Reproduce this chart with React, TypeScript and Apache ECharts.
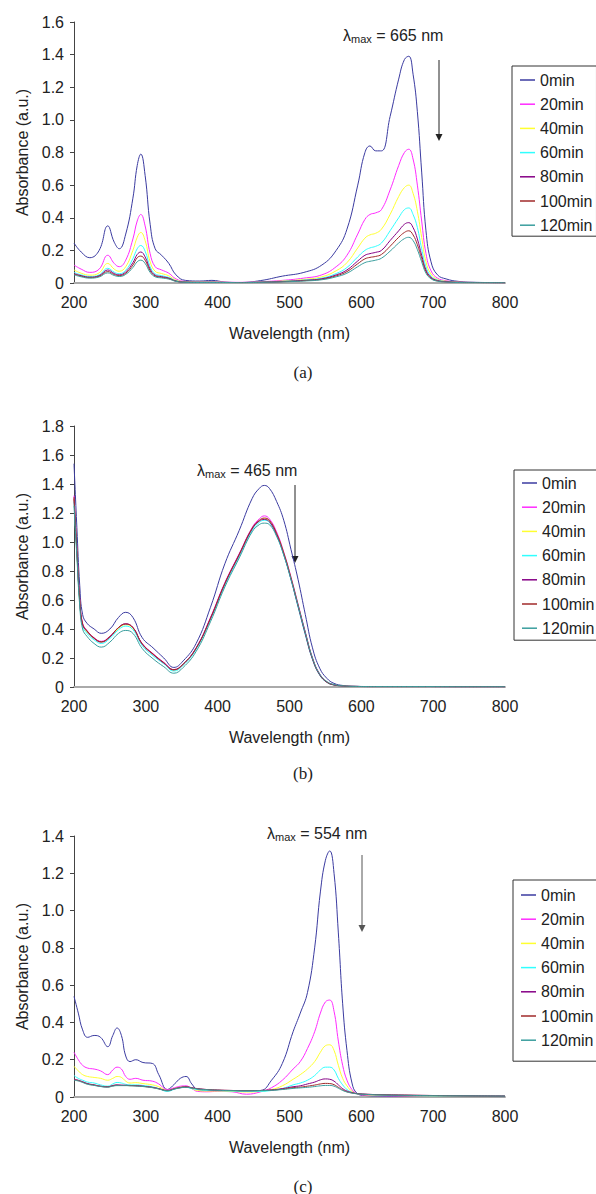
import React, { useEffect, useRef } from 'react';
import * as echarts from 'echarts';

// ---------- data ----------
const NAMES = ['0min', '20min', '40min', '60min', '80min', '100min', '120min'];
const COLORS = ['#3b3ba0', '#ff2bff', '#ffff30', '#30ffff', '#860086', '#a02a2a', '#3a9e9e'];
const X_TICKS = [200, 300, 400, 500, 600, 700, 800];

// panel (a)
const A_WL = [200, 210, 222, 235, 247, 256, 263, 272, 282, 288, 293, 299, 306, 313, 322, 332, 342, 355, 375, 392, 410, 430, 460, 490, 520, 545, 565, 580, 595, 605, 612, 620, 628, 640, 652, 660, 666, 672, 678, 684, 690, 697, 706, 718, 735, 760, 800];
const A_0 = [0.245, 0.19, 0.155, 0.2, 0.35, 0.25, 0.21, 0.3, 0.52, 0.72, 0.79, 0.66, 0.36, 0.21, 0.17, 0.12, 0.05, 0.016, 0.012, 0.016, 0.006, 0.003, 0.015, 0.042, 0.065, 0.11, 0.2, 0.33, 0.6, 0.8, 0.84, 0.81, 0.81, 1.02, 1.25, 1.37, 1.39, 1.28, 1.05, 0.68, 0.32, 0.13, 0.05, 0.025, 0.01, 0.004, 0.002];
const A_20 = [0.11, 0.085, 0.065, 0.085, 0.17, 0.12, 0.1, 0.14, 0.27, 0.38, 0.42, 0.35, 0.18, 0.1, 0.08, 0.06, 0.025, 0.01, 0.008, 0.008, 0.005, 0.004, 0.008, 0.016, 0.03, 0.05, 0.1, 0.17, 0.3, 0.39, 0.42, 0.43, 0.45, 0.57, 0.72, 0.8, 0.82, 0.76, 0.6, 0.38, 0.18, 0.075, 0.03, 0.014, 0.006, 0.003, 0.002];
const A_40 = [0.08, 0.06, 0.048, 0.062, 0.12, 0.085, 0.072, 0.1, 0.2, 0.28, 0.31, 0.26, 0.13, 0.072, 0.058, 0.044, 0.018, 0.008, 0.006, 0.006, 0.004, 0.003, 0.006, 0.012, 0.022, 0.038, 0.075, 0.125, 0.215, 0.275, 0.295, 0.305, 0.33, 0.42, 0.53, 0.585, 0.6, 0.55, 0.44, 0.28, 0.13, 0.055, 0.022, 0.011, 0.005, 0.003, 0.002];
const A_60 = [0.065, 0.05, 0.04, 0.05, 0.09, 0.066, 0.057, 0.078, 0.15, 0.21, 0.23, 0.195, 0.1, 0.056, 0.045, 0.034, 0.014, 0.006, 0.005, 0.005, 0.003, 0.003, 0.005, 0.01, 0.018, 0.03, 0.058, 0.095, 0.16, 0.2, 0.215, 0.225, 0.245, 0.32, 0.4, 0.45, 0.46, 0.42, 0.34, 0.21, 0.1, 0.042, 0.018, 0.009, 0.004, 0.003, 0.002];
const A_80 = [0.058, 0.045, 0.036, 0.045, 0.08, 0.058, 0.05, 0.068, 0.125, 0.175, 0.19, 0.16, 0.085, 0.048, 0.039, 0.03, 0.012, 0.005, 0.004, 0.004, 0.003, 0.003, 0.005, 0.009, 0.016, 0.026, 0.05, 0.08, 0.135, 0.17, 0.18, 0.188, 0.2, 0.26, 0.32, 0.36, 0.37, 0.34, 0.27, 0.17, 0.08, 0.035, 0.015, 0.008, 0.004, 0.003, 0.002];
const A_100 = [0.055, 0.042, 0.033, 0.041, 0.07, 0.052, 0.045, 0.06, 0.11, 0.155, 0.165, 0.14, 0.075, 0.043, 0.035, 0.027, 0.011, 0.005, 0.004, 0.004, 0.003, 0.003, 0.004, 0.008, 0.014, 0.023, 0.044, 0.07, 0.118, 0.148, 0.157, 0.163, 0.175, 0.225, 0.28, 0.31, 0.32, 0.295, 0.235, 0.15, 0.07, 0.03, 0.013, 0.007, 0.004, 0.003, 0.002];
const A_120 = [0.05, 0.038, 0.03, 0.037, 0.062, 0.046, 0.04, 0.053, 0.095, 0.13, 0.14, 0.12, 0.065, 0.038, 0.031, 0.024, 0.01, 0.004, 0.003, 0.003, 0.003, 0.002, 0.004, 0.007, 0.012, 0.02, 0.038, 0.06, 0.1, 0.125, 0.133, 0.14, 0.152, 0.195, 0.245, 0.272, 0.28, 0.26, 0.205, 0.13, 0.06, 0.026, 0.011, 0.006, 0.003, 0.002, 0.002];

// panel (b)
const B_WL = [200, 204, 208, 212, 218, 228, 238, 250, 262, 272, 282, 295, 310, 325, 339, 352, 370, 390, 410, 430, 448, 458, 465, 472, 482, 492, 502, 512, 522, 532, 542, 552, 562, 575, 590, 620, 680, 740, 800];
const B_0 = [1.54, 1.1, 0.7, 0.5, 0.44, 0.4, 0.37, 0.4, 0.48, 0.515, 0.48, 0.34, 0.27, 0.2, 0.135, 0.18, 0.3, 0.55, 0.85, 1.08, 1.3, 1.37, 1.39, 1.37, 1.28, 1.15, 0.95, 0.74, 0.5, 0.27, 0.13, 0.06, 0.025, 0.01, 0.005, 0.003, 0.003, 0.002, 0.002];
const B_20 = [1.32, 0.95, 0.6, 0.44, 0.39, 0.34, 0.315, 0.35, 0.41, 0.435, 0.41, 0.3, 0.23, 0.17, 0.12, 0.16, 0.27, 0.48, 0.72, 0.92, 1.1, 1.16, 1.18, 1.16, 1.07, 0.93, 0.76, 0.57, 0.38, 0.2, 0.09, 0.035, 0.015, 0.007, 0.004, 0.003, 0.003, 0.002, 0.002];
const B_40 = [1.3, 0.93, 0.59, 0.43, 0.38, 0.335, 0.31, 0.345, 0.405, 0.43, 0.405, 0.295, 0.225, 0.165, 0.115, 0.155, 0.265, 0.47, 0.71, 0.91, 1.09, 1.145, 1.16, 1.145, 1.055, 0.92, 0.75, 0.56, 0.37, 0.195, 0.085, 0.033, 0.014, 0.007, 0.004, 0.003, 0.003, 0.002, 0.002];
const B_60 = [1.28, 0.92, 0.58, 0.42, 0.37, 0.325, 0.3, 0.335, 0.395, 0.42, 0.395, 0.285, 0.215, 0.16, 0.11, 0.15, 0.26, 0.465, 0.7, 0.9, 1.08, 1.135, 1.15, 1.135, 1.045, 0.91, 0.74, 0.55, 0.36, 0.19, 0.082, 0.032, 0.014, 0.006, 0.004, 0.003, 0.003, 0.002, 0.002];
const B_80 = [1.3, 0.94, 0.6, 0.43, 0.385, 0.335, 0.31, 0.345, 0.41, 0.435, 0.41, 0.295, 0.225, 0.165, 0.118, 0.157, 0.268, 0.472, 0.712, 0.912, 1.09, 1.145, 1.155, 1.14, 1.05, 0.915, 0.745, 0.555, 0.365, 0.192, 0.084, 0.033, 0.014, 0.007, 0.004, 0.003, 0.003, 0.002, 0.002];
const B_100 = [1.31, 0.945, 0.6, 0.435, 0.388, 0.338, 0.312, 0.348, 0.41, 0.435, 0.41, 0.298, 0.228, 0.168, 0.12, 0.158, 0.268, 0.475, 0.715, 0.915, 1.095, 1.15, 1.165, 1.15, 1.06, 0.925, 0.755, 0.565, 0.375, 0.198, 0.087, 0.034, 0.015, 0.007, 0.004, 0.003, 0.003, 0.002, 0.002];
const B_120 = [1.25, 0.9, 0.56, 0.4, 0.35, 0.3, 0.275, 0.31, 0.37, 0.39, 0.37, 0.265, 0.195, 0.14, 0.095, 0.135, 0.245, 0.45, 0.69, 0.89, 1.07, 1.12, 1.13, 1.12, 1.04, 0.91, 0.745, 0.56, 0.375, 0.2, 0.09, 0.038, 0.017, 0.008, 0.004, 0.003, 0.003, 0.002, 0.002];

// panel (c)
const C_WL = [200, 206, 212, 219, 228, 237, 247, 254, 260, 266, 272, 278, 286, 296, 309, 318, 330, 340, 348, 356, 364, 372, 385, 400, 420, 440, 460, 475, 490, 505, 515, 525, 535, 543, 550, 556, 562, 568, 574, 580, 587, 594, 605, 630, 660, 700, 750, 800];
const C_0 = [0.54, 0.45, 0.36, 0.32, 0.33, 0.32, 0.27, 0.33, 0.37, 0.33, 0.22, 0.19, 0.2, 0.185, 0.18, 0.12, 0.04, 0.07, 0.1, 0.11, 0.07, 0.04, 0.035, 0.035, 0.033, 0.032, 0.035, 0.09, 0.18, 0.35, 0.45, 0.56, 0.8, 1.1, 1.27, 1.32, 1.2, 0.88, 0.5, 0.25, 0.075, 0.02, 0.008, 0.005, 0.004, 0.003, 0.003, 0.002];
const C_20 = [0.24, 0.2, 0.17, 0.155, 0.15, 0.14, 0.12, 0.145, 0.16, 0.15, 0.11, 0.095, 0.1, 0.09, 0.085, 0.07, 0.04, 0.05, 0.058, 0.06, 0.045, 0.03, 0.028, 0.03, 0.028, 0.015, 0.028, 0.05, 0.09, 0.15, 0.19, 0.26, 0.35, 0.45, 0.51, 0.52, 0.46, 0.3, 0.17, 0.09, 0.04, 0.018, 0.01, 0.007, 0.006, 0.005, 0.004, 0.003];
const C_40 = [0.165, 0.14, 0.12, 0.11, 0.105, 0.1, 0.09, 0.1, 0.11, 0.105, 0.085, 0.075, 0.077, 0.072, 0.065, 0.055, 0.035, 0.045, 0.052, 0.055, 0.045, 0.035, 0.032, 0.032, 0.03, 0.027, 0.03, 0.04, 0.06, 0.095, 0.12, 0.15, 0.19, 0.24, 0.275, 0.28, 0.25, 0.17, 0.1, 0.06, 0.03, 0.018, 0.012, 0.009, 0.007, 0.005, 0.004, 0.003];
const C_60 = [0.115, 0.1, 0.09, 0.08, 0.075, 0.065, 0.058, 0.07, 0.078, 0.075, 0.068, 0.065, 0.065, 0.062, 0.055, 0.045, 0.03, 0.042, 0.05, 0.052, 0.045, 0.04, 0.036, 0.034, 0.032, 0.03, 0.03, 0.035, 0.045, 0.065, 0.075, 0.09, 0.115, 0.145, 0.16, 0.16, 0.145, 0.1, 0.065, 0.04, 0.025, 0.018, 0.014, 0.01, 0.008, 0.006, 0.005, 0.004];
const C_80 = [0.095, 0.09, 0.082, 0.072, 0.065, 0.058, 0.055, 0.062, 0.065, 0.064, 0.063, 0.062, 0.061, 0.058, 0.052, 0.045, 0.035, 0.045, 0.052, 0.055, 0.05, 0.045, 0.04, 0.037, 0.035, 0.034, 0.035, 0.038, 0.045, 0.055, 0.06, 0.07, 0.08, 0.092, 0.097, 0.095, 0.085, 0.065, 0.045, 0.032, 0.024, 0.018, 0.015, 0.012, 0.01, 0.008, 0.006, 0.005];
const C_100 = [0.092, 0.088, 0.08, 0.07, 0.064, 0.057, 0.054, 0.06, 0.063, 0.062, 0.062, 0.061, 0.06, 0.057, 0.051, 0.044, 0.034, 0.044, 0.05, 0.053, 0.049, 0.044, 0.04, 0.037, 0.035, 0.034, 0.035, 0.037, 0.042, 0.05, 0.053, 0.058, 0.064, 0.07, 0.073, 0.072, 0.066, 0.052, 0.038, 0.028, 0.022, 0.018, 0.015, 0.012, 0.01, 0.008, 0.006, 0.005];
const C_120 = [0.09, 0.086, 0.078, 0.068, 0.062, 0.056, 0.053, 0.058, 0.061, 0.061, 0.061, 0.06, 0.059, 0.056, 0.05, 0.043, 0.033, 0.043, 0.049, 0.052, 0.048, 0.043, 0.039, 0.036, 0.034, 0.033, 0.034, 0.036, 0.04, 0.046, 0.049, 0.052, 0.056, 0.06, 0.062, 0.062, 0.058, 0.047, 0.035, 0.027, 0.021, 0.017, 0.014, 0.011, 0.009, 0.007, 0.006, 0.005];

const PANEL_LABELS = ['(a)', '(b)', '(c)'];
const LAMBDA_TEXT = ['= 665 nm', '= 465 nm', '= 554 nm'];
const Y_MAX = [1.6, 1.8, 1.4];

// ---------- layout ----------
const FONT = '"Liberation Sans", Arial, Helvetica, sans-serif';
const SERIF = '"Liberation Serif", "Times New Roman", serif';
const LAYOUT = [
  { top: 22, height: 261, legend: { left: 512, top: 66, padding: [6, 4, 3, 8] }, caption: 372, lambda: [343, 35], arrow: [439, 60, 141], arrowColor: '#222' },
  { top: 426, height: 261, legend: { left: 514, top: 470, padding: [5, 4, 4, 8] }, caption: 773, lambda: [197, 470], arrow: [295, 485, 563], arrowColor: '#222' },
  { top: 836, height: 261, legend: { left: 513, top: 880, padding: [7, 4, 13, 8] }, caption: 1186, lambda: [267, 833], arrow: [362, 855, 932], arrowColor: '#555' },
];

const PANELS = [
  { wl: A_WL, vals: [A_0, A_20, A_40, A_60, A_80, A_100, A_120] },
  { wl: B_WL, vals: [B_0, B_20, B_40, B_60, B_80, B_100, B_120] },
  { wl: C_WL, vals: [C_0, C_20, C_40, C_60, C_80, C_100, C_120] },
];

function buildOption() {
  const grid: any[] = [];
  const xAxis: any[] = [];
  const yAxis: any[] = [];
  const series: any[] = [];
  const legend: any[] = [];
  const graphic: any[] = [];

  PANELS.forEach((panel, p) => {
    const L = LAYOUT[p];
    grid.push({ left: 74, top: L.top, width: 431, height: L.height, containLabel: false });
    xAxis.push({
      type: 'value', gridIndex: p, min: X_TICKS[0], max: X_TICKS[X_TICKS.length - 1], interval: 100,
      axisLine: { show: true, lineStyle: { color: '#aaaaaa', width: 2 } },
      axisTick: { show: false }, splitLine: { show: false },
      axisLabel: { fontSize: 16, color: '#222', fontFamily: FONT, margin: 11 },
      name: 'Wavelength (nm)', nameLocation: 'middle', nameGap: 42,
      nameTextStyle: { fontSize: 16, color: '#222', fontFamily: FONT },
    });
    yAxis.push({
      type: 'value', gridIndex: p, min: 0, max: Y_MAX[p], interval: 0.2,
      axisLine: { show: true, lineStyle: { color: '#444', width: 1 } },
      axisTick: { show: true, length: 4, lineStyle: { color: '#444' } },
      splitLine: { show: false },
      axisLabel: {
        fontSize: 16, color: '#222', fontFamily: FONT, margin: 10,
        formatter: (v: number) => (Math.abs(v) < 1e-9 ? '0' : v.toFixed(1)),
      },
      name: 'Absorbance (a.u.)', nameLocation: 'middle', nameGap: 44,
      nameTextStyle: { fontSize: 16, color: '#222', fontFamily: FONT },
    });
    panel.vals.forEach((vals, i) => {
      series.push({
        type: 'line', name: NAMES[i], xAxisIndex: p, yAxisIndex: p,
        data: panel.wl.map((w, k) => [w, vals[k]]),
        symbol: 'none', smooth: 0.45,
        lineStyle: { width: 1, color: COLORS[i] }, itemStyle: { color: COLORS[i] },
        z: 3 + i,
      });
    });
    legend.push({
      data: NAMES, orient: 'vertical', left: L.legend.left, top: L.legend.top,
      padding: L.legend.padding, itemGap: 8.2, itemWidth: 15, itemHeight: 1.5,
      icon: 'rect',
      borderColor: '#333', borderWidth: 1, backgroundColor: '#fff',
      textStyle: { fontSize: 16, color: '#222', fontFamily: FONT, lineHeight: 16 },
      selectedMode: false,
    });
    graphic.push({
      type: 'text', x: 303, y: L.caption,
      style: { text: PANEL_LABELS[p], fontSize: 17, fontFamily: SERIF, fill: '#222', align: 'center', verticalAlign: 'middle' },
    });
    graphic.push({
      type: 'text', x: L.lambda[0], y: L.lambda[1],
      style: {
        text: '{l|λ}{s|max}{n| ' + LAMBDA_TEXT[p] + '}',
        align: 'left', verticalAlign: 'middle',
        rich: {
          l: { fontSize: 16, fontFamily: FONT, fill: '#222', lineHeight: 18 },
          s: { fontSize: 11, fontFamily: FONT, fill: '#222', lineHeight: 11, verticalAlign: 'bottom' },
          n: { fontSize: 16, fontFamily: FONT, fill: '#222', lineHeight: 18 },
        },
      },
    });
    const [ax, ay1, ay2] = L.arrow;
    graphic.push({
      type: 'line', shape: { x1: ax, y1: ay1, x2: ax, y2: ay2 - 5 },
      style: { stroke: L.arrowColor, lineWidth: 1 },
    });
    graphic.push({
      type: 'polygon', shape: { points: [[ax - 3.5, ay2 - 7], [ax + 3.5, ay2 - 7], [ax, ay2]] },
      style: { fill: L.arrowColor },
    });
  });

  return {
    animation: false,
    backgroundColor: '#fff',
    textStyle: { fontFamily: FONT },
    grid, xAxis, yAxis, series, legend, graphic,
  };
}

export default function App() {
  const ref = useRef<HTMLDivElement>(null);
  useEffect(() => {
    document.body.style.margin = '0';
    if (!ref.current) return;
    const chart = echarts.init(ref.current, undefined, { renderer: 'svg' });
    chart.setOption(buildOption() as any);
    return () => chart.dispose();
  }, []);
  return <div ref={ref} style={{ width: 596, height: 1194, position: 'absolute', left: 0, top: 0 }} />;
}
